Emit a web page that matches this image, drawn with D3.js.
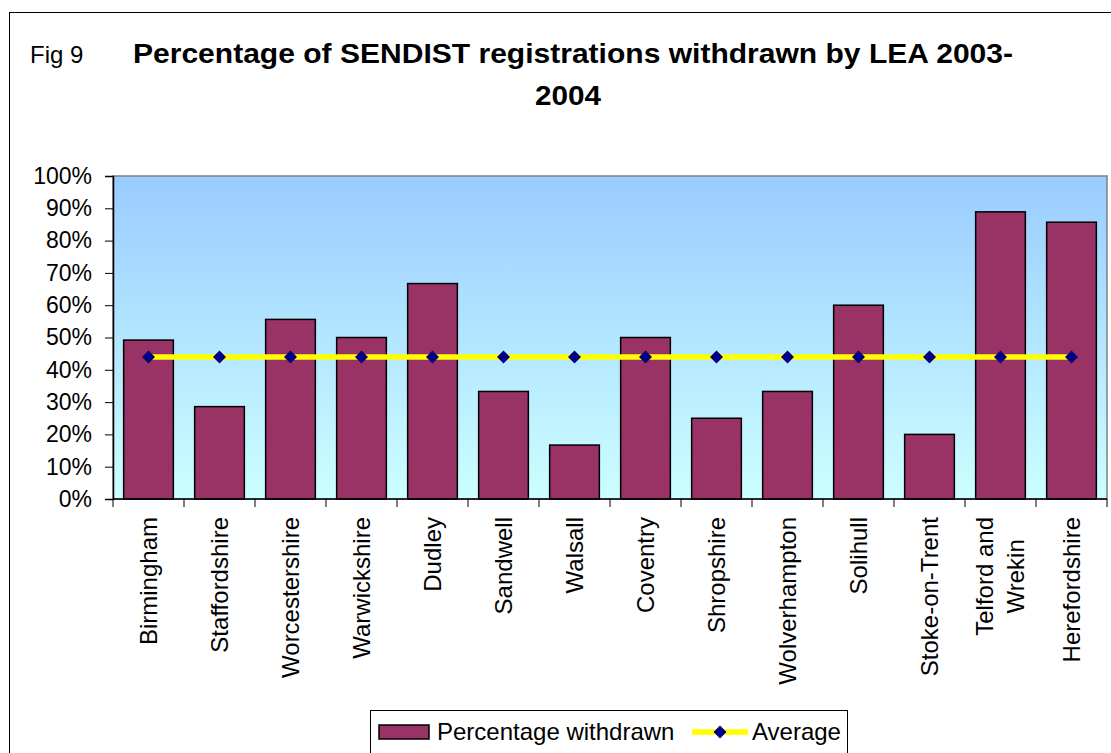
<!DOCTYPE html>
<html>
<head>
<meta charset="utf-8">
<script src="https://cdn.jsdelivr.net/npm/d3@7"></script>
<style>
  body { margin: 0; background: #fff; }
  text { font-family: "Liberation Sans", Arial, sans-serif; fill: #000; }
</style>
</head>
<body>
<div id="chart"></div>
<script>
const categories = [
  ["Birmingham"], ["Staffordshire"], ["Worcestershire"], ["Warwickshire"],
  ["Dudley"], ["Sandwell"], ["Walsall"], ["Coventry"], ["Shropshire"],
  ["Wolverhampton"], ["Solihull"], ["Stoke-on-Trent"], ["Telford and", "Wrekin"],
  ["Herefordshire"]
];
const withdrawn = [49.2, 28.6, 55.6, 50, 66.7, 33.3, 16.7, 50, 25, 33.3, 60, 20, 88.9, 85.7];
const average = [44, 44, 44, 44, 44, 44, 44, 44, 44, 44, 44, 44, 44, 44];
const yTicks = [0, 10, 20, 30, 40, 50, 60, 70, 80, 90, 100];

const width = 1111, height = 753;
const plot = {left: 113, right: 1107, top: 176, bottom: 499};

const svg = d3.select("#chart").append("svg")
  .attr("width", width)
  .attr("height", height);

// outer chart border
svg.append("rect")
  .attr("x", 9.5).attr("y", 12.5)
  .attr("width", width + 20).attr("height", height + 20)
  .attr("fill", "#fff").attr("stroke", "#000").attr("stroke-width", 1);

// titles
svg.append("text")
  .attr("x", 30).attr("y", 63)
  .style("font-size", "24px")
  .text("Fig 9");

svg.append("text")
  .attr("x", 133).attr("y", 63)
  .attr("textLength", 880).attr("lengthAdjust", "spacingAndGlyphs")
  .style("font-size", "27.5px").style("font-weight", "bold")
  .text("Percentage of SENDIST registrations withdrawn by LEA 2003-");

svg.append("text")
  .attr("x", 535).attr("y", 105)
  .attr("textLength", 66).attr("lengthAdjust", "spacingAndGlyphs")
  .style("font-size", "27.5px").style("font-weight", "bold")
  .text("2004");

// scales
const x = d3.scaleBand()
  .domain(d3.range(categories.length))
  .range([plot.left, plot.right])
  .paddingInner(0.3)
  .paddingOuter(0.15);

const y = d3.scaleLinear()
  .domain([0, 100])
  .range([plot.bottom, plot.top]);

// plot background gradient
const grad = svg.append("defs").append("linearGradient")
  .attr("id", "bg").attr("x1", 0).attr("y1", 0).attr("x2", 0).attr("y2", 1);
grad.append("stop").attr("offset", "0%").attr("stop-color", "#99CCFF");
grad.append("stop").attr("offset", "100%").attr("stop-color", "#CCFFFF");

svg.append("rect")
  .attr("x", plot.left).attr("y", plot.top)
  .attr("width", plot.right - plot.left).attr("height", plot.bottom - plot.top)
  .attr("fill", "url(#bg)")
  .attr("stroke", "#808080").attr("stroke-width", 1.5);

// bars
svg.selectAll("rect.bar")
  .data(withdrawn)
  .enter()
  .append("rect")
  .attr("class", "bar")
  .attr("x", (d, i) => x(i))
  .attr("y", d => y(d))
  .attr("width", x.bandwidth())
  .attr("height", d => y(0) - y(d))
  .attr("fill", "#993366")
  .attr("stroke", "#000")
  .attr("stroke-width", 1.5);

// axes
const yAxis = d3.axisLeft(y)
  .tickValues(yTicks)
  .tickSize(8)
  .tickPadding(13)
  .tickFormat(d => d + "%");

const gy = svg.append("g")
  .attr("transform", `translate(${plot.left},0)`)
  .call(yAxis);
gy.select(".domain").attr("stroke", "#000").attr("stroke-width", 1.5);
gy.selectAll(".tick line").attr("stroke", "#000");
gy.selectAll(".tick text")
  .style("font-size", "23px")
  .style("font-family", "'Liberation Sans', Arial, sans-serif")
  .attr("fill", "#000");

const step = x.step();
const boundaries = d3.range(categories.length + 1).map(i => plot.left + i * step);
const gx = svg.append("g");
gx.append("line")
  .attr("x1", plot.left).attr("x2", plot.right)
  .attr("y1", plot.bottom).attr("y2", plot.bottom)
  .attr("stroke", "#000").attr("stroke-width", 1.5);
gx.selectAll("line.tick")
  .data(boundaries)
  .enter()
  .append("line")
  .attr("class", "tick")
  .attr("x1", d => d).attr("x2", d => d)
  .attr("y1", plot.bottom).attr("y2", plot.bottom + 8)
  .attr("stroke", "#000");

// rotated category labels
const labelTop = 517;
const labels = gx.selectAll("g.label")
  .data(categories)
  .enter()
  .append("g")
  .attr("class", "label")
  .attr("transform", (d, i) => `translate(${x(i) + x.bandwidth() / 2},${labelTop}) rotate(-90)`);

labels.each(function(lines) {
  const g = d3.select(this);
  const texts = lines.map((line, k) => g.append("text")
    .style("font-size", "24px")
    .attr("text-anchor", "middle")
    .attr("y", (k - (lines.length - 1) / 2) * 31 + 8.4)
    .text(line));
  const maxLen = d3.max(texts, t => t.node().getComputedTextLength());
  texts.forEach(t => t.attr("x", -maxLen / 2));
});

// average line with diamond markers
const cx = i => x(i) + x.bandwidth() / 2;
const line = d3.line()
  .x((d, i) => cx(i))
  .y(d => y(d));

svg.append("path")
  .datum(average)
  .attr("d", line)
  .attr("fill", "none")
  .attr("stroke", "#FFFF00")
  .attr("stroke-width", 5.5);

const diamond = "M0,-6.5L6.5,0L0,6.5L-6.5,0Z";
svg.selectAll("path.marker")
  .data(average)
  .enter()
  .append("path")
  .attr("class", "marker")
  .attr("d", diamond)
  .attr("transform", (d, i) => `translate(${cx(i)},${y(d)})`)
  .attr("fill", "#000080");

// legend
const legend = svg.append("g");
legend.append("rect")
  .attr("x", 370.5).attr("y", 710.5)
  .attr("width", 477).attr("height", 60)
  .attr("fill", "#fff").attr("stroke", "#000").attr("stroke-width", 1);
legend.append("rect")
  .attr("x", 379).attr("y", 725)
  .attr("width", 50).attr("height", 14)
  .attr("fill", "#993366").attr("stroke", "#000").attr("stroke-width", 1.5);
legend.append("text")
  .attr("x", 437).attr("y", 740)
  .style("font-size", "24px")
  .text("Percentage withdrawn");
legend.append("line")
  .attr("x1", 692).attr("x2", 748)
  .attr("y1", 732).attr("y2", 732)
  .attr("stroke", "#FFFF00").attr("stroke-width", 5.5);
legend.append("path")
  .attr("d", diamond)
  .attr("transform", "translate(720,732)")
  .attr("fill", "#000080");
legend.append("text")
  .attr("x", 752).attr("y", 740)
  .style("font-size", "24px")
  .text("Average");
</script>
</body>
</html>
